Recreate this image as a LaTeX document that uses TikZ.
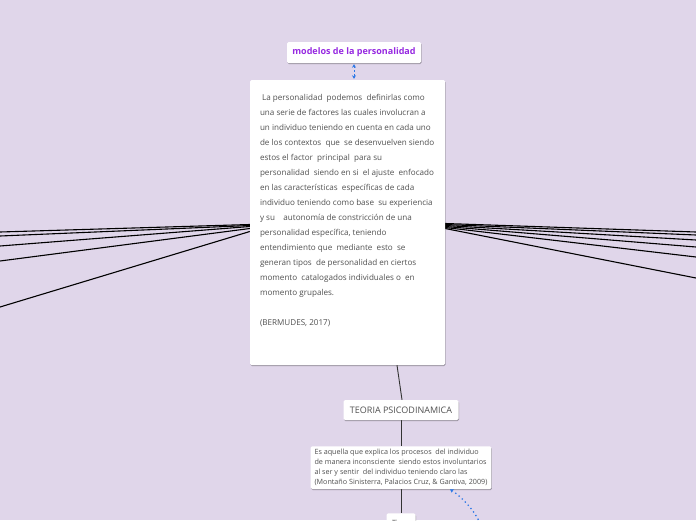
\documentclass[tikz,border=0pt]{standalone}
\usepackage{fontspec}
\setmainfont{Open Sans}
\usepackage{tikz}
\usetikzlibrary{positioning,calc,arrows.meta,shadows,backgrounds}
\definecolor{fondo}{RGB}{224,214,234}
\definecolor{viola}{RGB}{150,40,225}
\definecolor{grigiotesto}{RGB}{80,80,80}
\definecolor{blu}{RGB}{45,120,230}

\tikzset{
	scatola/.style={fill=white,rounded corners=1.5pt,
		drop shadow={shadow xshift=0.5pt,shadow yshift=-1pt,opacity=0.3,fill=black}},
	ramo/.style={line width=1.1pt,black},
	legame/.style={line width=0.9pt,black!80},
	tratteggio/.style={blu,line width=0.9pt,dash pattern=on 2pt off 2pt},
	puntini/.style={blu,line width=1.3pt,dash pattern=on 1.3pt off 3pt},
}

\begin{document}
\begin{tikzpicture}[x=1pt,y=-1pt]
	\useasboundingbox (0,0) rectangle (696,520);
	\clip (0,0) rectangle (696,520);

	% riquadri
	\node[scatola,minimum width=134pt,minimum height=21pt,inner sep=0pt,
		font=\fontsize{9}{10}\selectfont\bfseries,text=viola] (modelli) at (354,52.5) {modelos de la personalidad};
	\node[scatola,minimum width=195pt,minimum height=285pt,inner sep=0pt] (main) at (347.5,222.5) {};
	\node[below right=14pt and 10pt of main.north west,anchor=north west,inner sep=0pt,align=left,
		text=grigiotesto,font=\fontsize{8.1}{15}\selectfont] (defin)
		{\ La personalidad\ \ podemos\ \ definirlas como\\
		una serie de factores las cuales involucran a\\
		un individuo teniendo en cuenta en cada uno\\
		de los contextos\ \ que\ \ se desenvuelven siendo\\
		estos el factor\ \ principal\ \ para su\\
		personalidad\ \ siendo en si\ \ el ajuste\ \ enfocado\\
		en las características\ \ específicas de cada\\
		individuo teniendo como base\ \ su experiencia\\
		y su\ \ \ \ autonomía de constricción de una\\
		personalidad específica, teniendo\\
		entendimiento que\ \ mediante\ \ esto\ \ se\\
		generan tipos\ \ de personalidad en ciertos\\
		momento\ \ catalogados individuales o\ \ en\\
		momento grupales.\\[15pt]
		(BERMUDES, 2017)};
	\node[scatola,minimum width=115pt,minimum height=20pt,inner sep=0pt,
		font=\fontsize{9}{10}\selectfont,text=grigiotesto] (teoria) at (401,410) {TEORIA PSICODINAMICA};
	\node[scatola,below=26pt of teoria,inner xsep=4pt,inner ysep=3pt,align=left,
		font=\fontsize{7.2}{10}\selectfont,text=grigiotesto] (desc)
		{Es aquella que explica los procesos\ \ del individuo\\
		de manera inconsciente\ \ siendo estos involuntarios\\
		al ser y sentir\ \ del individuo teniendo claro las\\
		(Montaño Sinisterra, Palacios Cruz, \& Gantiva, 2009)};
	\node[scatola,below=24pt of desc,minimum width=29pt,minimum height=20pt,inner sep=0pt,
		font=\fontsize{7.2}{10}\selectfont,text=grigiotesto] (tipi) {Tipos};

	\begin{scope}[on background layer]
		\fill[fondo] (0,0) rectangle (696,520);
		% rami verso sinistra
		\foreach \a/\b in {-2/232,-3/236,-4/246,-6/261,-9/307}{
			\coordinate (sx\b) at (0,\b);
			\draw[ramo] ([yshift=\a pt]main.west) -- (sx\b);
		}
		% rami verso destra
		\foreach \a/\b in {-1/232,-2/235,-3/240,-4/247,-5/257,-6/278}{
			\coordinate (dx\b) at (696,\b);
			\draw[ramo] ([yshift=\a pt]main.east) -- (dx\b);
		}
		\draw[legame] ([xshift=49.5pt]main.south) -- ([xshift=1pt]teoria.north);
		\draw[legame] (teoria) -- (desc);
		\draw[legame] (desc) -- (tipi);
	\end{scope}

	% collegamenti blu
	\draw[tratteggio,{Stealth[length=3.5pt,width=4pt]}-{Stealth[length=3.5pt,width=4pt]}] ([yshift=-1pt]modelli.south) -- ([yshift=1pt]main.north -| modelli.south);
	\coordinate (fine) at (479,521);
	\draw[puntini,{Stealth[length=3.5pt,width=4pt]}-] ([xshift=49pt]desc.south) .. controls +(12,8) and +(-6,-12) .. (fine);
\end{tikzpicture}
\end{document}
